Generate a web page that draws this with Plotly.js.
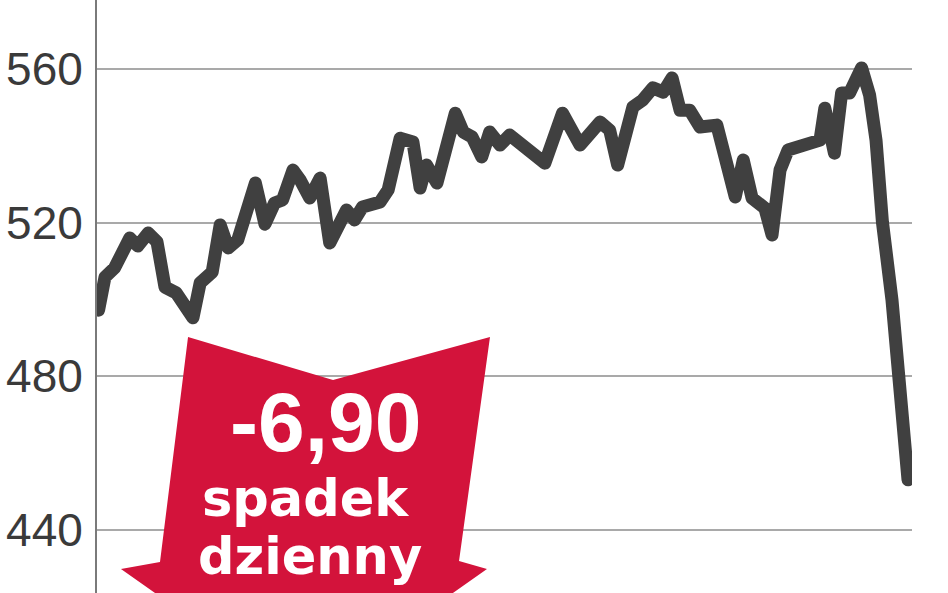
<!DOCTYPE html>
<html lang="pl">
<head>
<meta charset="utf-8">
<title>Spadek dzienny</title>
<script src="https://cdn.plot.ly/plotly-3.0.1.min.js"></script>
<style>
    html, body { margin: 0; padding: 0; background: #ffffff; }
    #chart { width: 948px; height: 593px; }
    /* zaokrąglone załamania linii jak w oryginale */
    #chart .scatterlayer path.js-line { stroke-linejoin: round; stroke-linecap: round; }
</style>
</head>
<body>
<div id="chart"></div>
<script>
// Numer sesji i kurs
const sesje = [0.2, 1.0, 2.2, 4.1, 5.1, 6.4, 7.5, 8.5, 9.9, 12.0,
    12.9, 14.4, 15.4, 16.4, 17.6, 19.8, 21.0, 22.2, 23.2, 24.5,
    25.4, 26.6, 27.9, 29.1, 31.2, 32.2, 33.2, 35.4, 36.4, 37.9,
    39.5, 40.4, 41.2, 42.5, 44.8, 45.8, 46.9, 48.1, 49.1, 50.4,
    51.6, 56.0, 58.2, 60.4, 62.9, 64.1, 65.1, 67.0, 68.2, 69.5,
    70.8, 71.9, 72.9, 74.1, 75.4, 77.5, 79.8, 80.8, 81.9, 83.5,
    84.4, 85.4, 86.4, 89.1, 90.4, 91.0, 92.2, 93.1, 94.1, 95.6,
    96.6, 97.4, 98.2, 99.4, 100.4, 101.4];
const kurs = [497.2, 505.8, 508.2, 516.0, 513.9, 517.3, 515.0, 503.2, 501.7, 495.2,
    504.3, 507.1, 519.4, 513.4, 515.5, 530.3, 519.6, 525.1, 525.9, 533.7,
    531.1, 526.4, 531.6, 514.7, 523.3, 520.7, 524.1, 525.4, 528.5, 542.0,
    541.0, 529.0, 535.0, 530.3, 548.5, 543.6, 542.3, 537.1, 543.6, 540.2,
    542.8, 535.5, 548.5, 540.2, 546.2, 544.1, 535.0, 550.1, 551.9, 555.1,
    554.0, 557.7, 549.3, 549.3, 544.9, 545.4, 526.7, 536.3, 526.4, 523.8,
    516.8, 533.7, 538.9, 540.7, 541.5, 549.8, 538.1, 553.8, 553.8, 560.3,
    553.2, 541.5, 520.2, 499.8, 479.8, 453.0];
const poziomy = [440, 480, 520, 560];
const zmiana = '-6,90';
const opis = ['spadek', 'dzienny'];

document.addEventListener('DOMContentLoaded', function() {
    initChart();
});

// piksele okna -> współrzędne "paper" obszaru wykresu
const M = { l: 97, r: 36, t: 0, b: 0 };
function px(x) { return (x - M.l) / (948 - M.l - M.r); }
function py(y) { return 1 - (y - M.t) / (593 - M.t - M.b); }

function arrowPath() {
    const pts = [[188, 337], [333, 380], [490, 337], [459, 561], [487, 569],
        [304, 698], [121, 569], [160, 562]];
    return 'M ' + pts.map(p => px(p[0]).toFixed(4) + ',' + py(p[1]).toFixed(4)).join(' L ') + ' Z';
}

function initChart() {
    const linia = {
        type: 'scatter',
        mode: 'lines',
        x: sesje,
        y: kurs,
        line: { color: '#404040', width: 13 },
        hoverinfo: 'skip'
    };

    const layout = {
        width: 948,
        height: 593,
        paper_bgcolor: '#ffffff',
        plot_bgcolor: '#ffffff',
        margin: { l: M.l, r: M.r, t: M.t, b: M.b, pad: 0 },
        showlegend: false,
        xaxis: {
            range: [0, 101.9],
            showgrid: false, zeroline: false, showline: false,
            showticklabels: false, ticks: ''
        },
        yaxis: {
            range: [423.5, 578],
            tickvals: poziomy,
            ticktext: poziomy.map(String),
            showline: true, linecolor: '#7a7a7a', linewidth: 2,
            gridcolor: '#a9a9a9', gridwidth: 2,
            zeroline: false, ticks: '',
            ticklabelstandoff: 3,
            tickfont: { family: 'Liberation Sans, Arial, sans-serif', size: 46, color: '#3a3a3a' }
        },
        shapes: [{
            type: 'path',
            xref: 'paper', yref: 'paper',
            path: arrowPath(),
            fillcolor: '#d3133b',
            line: { width: 0 },
            layer: 'above'
        }],
        annotations: [
            {
                text: '<b>' + zmiana + '</b>', xref: 'paper', yref: 'paper',
                x: px(325), y: py(422), xanchor: 'center', yanchor: 'middle', showarrow: false,
                font: { family: 'Liberation Sans, Arial, sans-serif', size: 84, color: '#ffffff' }
            },
            {
                text: '<b>' + opis[0] + '</b>', xref: 'paper', yref: 'paper',
                x: px(305), y: py(498), xanchor: 'center', yanchor: 'middle', showarrow: false,
                font: { family: 'DejaVu Sans, sans-serif', size: 51, color: '#ffffff' }
            },
            {
                text: '<b>' + opis[1] + '</b>', xref: 'paper', yref: 'paper',
                x: px(310), y: py(556), xanchor: 'center', yanchor: 'middle', showarrow: false,
                font: { family: 'DejaVu Sans, sans-serif', size: 51, color: '#ffffff' }
            }
        ]
    };

    Plotly.newPlot('chart', [linia], layout, { staticPlot: true, displayModeBar: false });
}
</script>
</body>
</html>
